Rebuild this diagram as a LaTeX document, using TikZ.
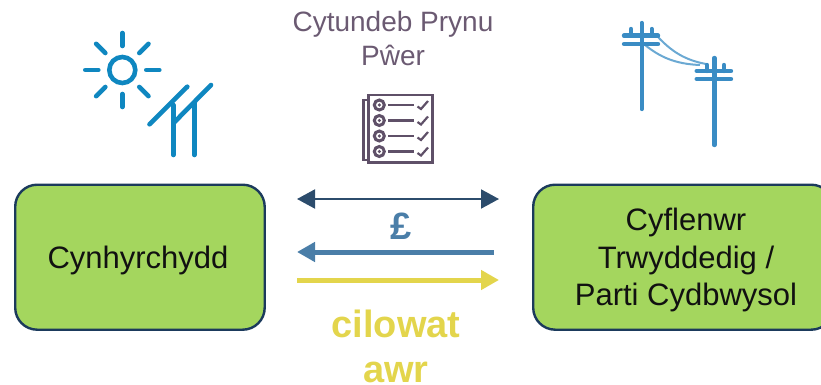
\documentclass[tikz,border=0pt]{standalone}
\usepackage{fontspec}
\setmainfont{Liberation Sans}
\usetikzlibrary{arrows.meta}
\definecolor{boxfill}{HTML}{A4D65E}
\definecolor{boxline}{HTML}{1B3A5C}
\definecolor{navy}{HTML}{2C4C6C}
\definecolor{midblue}{HTML}{4A7EA8}
\definecolor{goldy}{HTML}{E3D54C}
\definecolor{plum}{HTML}{6B5A72}
\definecolor{docline}{HTML}{5F5068}
\definecolor{solar}{HTML}{0F87C0}
\definecolor{pole}{HTML}{3A8CC4}
\definecolor{ink}{HTML}{111111}
\tikzset{
  party/.style={draw=boxline,line width=2.4pt,fill=boxfill,rounded corners=22pt,anchor=north west,inner sep=0pt},
  bodytext/.style={font=\fontsize{31}{37.5}\selectfont,text=ink,align=center,inner sep=0pt},
  titletext/.style={font=\fontsize{28}{34}\selectfont,text=plum,align=center,inner sep=0pt},
  energytext/.style={font=\fontsize{38}{45}\selectfont\bfseries,text=goldy,align=center,inner sep=0pt},
  pricetext/.style={font=\fontsize{38}{38}\selectfont\bfseries,text=midblue,inner sep=0pt},
  contractarrow/.style={navy,line width=2pt,{Triangle[length=18pt,width=19pt]}-{Triangle[length=18pt,width=19pt]}},
  moneyarrow/.style={midblue,line width=5pt,{Triangle[length=18pt,width=19pt]}-},
  powerarrow/.style={goldy,line width=5pt,-{Triangle[length=18pt,width=19pt]}},
  solaricon/.style={solar,line width=4.6pt,line cap=round},
  poleicon/.style={pole,line width=4.4pt,line cap=round},
  wire/.style={pole!75,line width=2pt},
  docicon/.style={docline,line width=2.4pt}
}
\begin{document}
\begin{tikzpicture}[x=1pt,y=-1pt]
\useasboundingbox (0,0) rectangle (821,385);
\clip (0,0) rectangle (821,385);
% boxes
\node[party,minimum width=249.5pt,minimum height=145pt] (gen) at (14,183.5) {};
\node[party,minimum width=300pt,minimum height=145pt] (sup) at (532,183.5) {};
\node[bodytext] (gentext) at (138,260) {Cynhyrchydd};
\node[bodytext] (suptext) at (686,260) {Cyflenwr\\Trwyddedig /\\Parti Cydbwysol};
% labels
\node[titletext] (title) at (393,38) {Cytundeb Prynu\\Pŵer};
\node[pricetext] (price) at (401,226) {£};
\node[energytext] (energy) at (396,346) {cilowat\\awr};
% arrows
\coordinate (al) at (297,199); \coordinate (ar) at (499,199);
\coordinate (bl) at (297,252); \coordinate (br) at (494,252);
\coordinate (cl) at (297,280); \coordinate (cr) at (499,280);
\draw[contractarrow] (al) -- (ar);
\draw[moneyarrow] (bl) -- (br);
\draw[powerarrow] (cl) -- (cr);
% sun
\draw[solaricon] (122.3,70) circle (13);
\foreach \a in {0,45,...,315}{
  \draw[solaricon] ({122.3+24*cos(\a)},{70+24*sin(\a)}) -- ({122.3+37*cos(\a)},{70+37*sin(\a)});
}
% solar panel
\draw[solaricon] (149.5,124.3) -- (187.3,86.7);
\draw[solaricon] (173.3,123.3) -- (211,85);
\draw[solaricon] (173.3,105) -- (173.3,155);
\draw[solaricon] (194.3,103.5) -- (194.3,155);
% poles
\draw[wire] (657,36) .. controls (672,52) and (685,60) .. (706,64);
\draw[wire] (645,45) .. controls (660,57) and (675,64) .. (700,65);
\draw[poleicon] (641.7,23) -- (641.7,109);
\draw[poleicon] (624,35.7) -- (658,35.7);
\draw[poleicon] (624,44) -- (658,44);
\draw[poleicon] (631,29) -- (631,35.7);
\draw[poleicon] (651.7,29) -- (651.7,35.7);
\draw[poleicon] (714.3,58) -- (714.3,145);
\draw[poleicon] (696.7,71) -- (731,71);
\draw[poleicon] (696.7,79) -- (731,79);
\draw[poleicon] (707,65) -- (707,71);
\draw[poleicon] (724,65) -- (724,71);
% document
\draw[docicon] (368.3,100) -- (363.3,100) -- (363.3,160) -- (368.3,160);
\draw[docicon] (368.3,95) rectangle (432.3,162.3);
\foreach \y in {105,120.5,136,151.5}{
  \draw[docicon,line width=3pt] (379.3,\y) circle (5);
  \fill[docline] (379.3,\y) circle (1.8);
  \draw[docicon] (388,\y) -- (414,\y);
  \draw[docicon,line width=2.2pt] (417.5,{\y+1.5}) -- (421,{\y+4}) -- (428,{\y-4});
}
\end{tikzpicture}
\end{document}
